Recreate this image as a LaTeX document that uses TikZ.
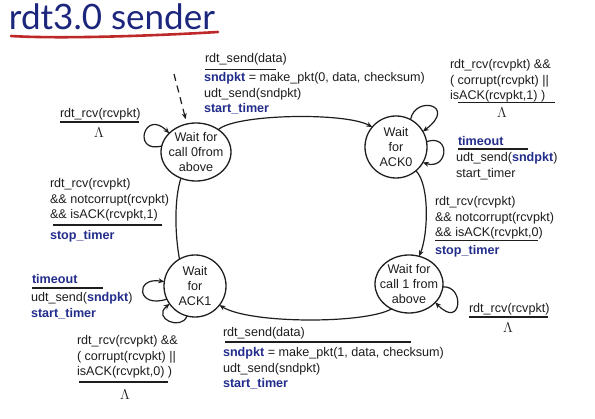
\documentclass[tikz,border=0pt]{standalone}
\usepackage{fontspec}
\setmainfont{Liberation Sans}
\newfontfamily\titlefont{Lato}
\usetikzlibrary{arrows.meta,shapes.geometric}
\definecolor{navy}{RGB}{28,38,125}
\definecolor{kwc}{RGB}{35,45,140}
\definecolor{ink}{RGB}{30,30,30}
\definecolor{swoosh}{RGB}{190,40,40}
\newcommand{\kw}[1]{\textbf{\textcolor{kwc}{#1}}}
\begin{document}
\begin{tikzpicture}[x=1pt,y=-1pt,
  every node/.style={inner sep=0pt, outer sep=0pt, text=ink},
  lbl/.style={anchor=north west, align=left, font=\fontsize{12.6}{15.3}\selectfont},
  state/.style={draw=ink, line width=1.3pt, ellipse, inner sep=0pt},
  statetext/.style={align=center, font=\fontsize{12.6}{15.3}\selectfont},
  arr/.style={draw=ink, line width=1.2pt, -{Stealth[length=6pt,width=5pt]}},
  conn/.style={draw=ink, line width=1.2pt},
  rulel/.style={draw=ink, line width=1.6pt},
  lam/.style={font=\fontsize{15}{15}\selectfont}]
\fill[white] (0,0) rectangle (595,419);
\useasboundingbox (0,0) rectangle (595,419);

% title
\node[anchor=base west, font=\titlefont\fontsize{35}{38}\selectfont, text=navy] (title) at (9,30) {rdt3.0 sender};
\draw[swoosh, line width=2.6pt, line cap=round] (11,36) .. controls (60,39) and (150,36) .. (218,32);

% states
\node[state, minimum width=70pt, minimum height=58pt] (s0) at (196,152) {};
\node[statetext] (t0) at (s0) {Wait for\\call 0from\\above};
\node[state, minimum width=62pt, minimum height=62pt] (s1) at (396,147) {};
\node[statetext] (t1) at (s1) {Wait\\for\\ACK0};
\node[state, minimum width=68pt, minimum height=58pt] (s2) at (409,284) {};
\node[statetext] (t2) at (s2) {Wait for\\call 1 from\\above};
\node[state, minimum width=62pt, minimum height=62pt] (s3) at (195,286) {};
\node[statetext] (t3) at (s3) {Wait\\for\\ACK1};

% transitions
\coordinate (init) at (174,74);
\draw[arr, dash pattern=on 7pt off 5pt, shorten >=5pt] (init) -- (s0.108);
\draw[arr] (s0.45) .. controls (235,114) and (345,112) .. (s1.140);
\draw[arr] (s0.170) .. controls +(-30,8) and +(-25,-25) .. (s0.145);
\draw[arr] (s1.62) .. controls (415,95) and (458,105) .. (s1.30);
\draw[arr] (s1.10) .. controls +(25,-8) and +(25,8) .. (s1.-30);
\draw[arr] (s1.-50) .. controls (430,185) and (428,235) .. (s2.70);
\draw[arr] (s2.-5) .. controls (465,285) and (462,330) .. (s2.-35);
\draw[arr] (s2.235) .. controls (365,324) and (250,324) .. (s3.-38);
\draw[arr] (s3.205) .. controls +(-30,10) and +(-30,-5) .. (s3.172);
\draw[arr] (s3.255) .. controls +(-5,15) and +(-18,15) .. (s3.215);
\draw[conn] (s3.120) .. controls (175,235) and (174,200) .. (s0.240);

% labels: top (s0 -> s1)
\node[lbl] (l1g) at (205,53.8) {rdt\_send(data)};
\draw[rulel] (205,69.5) -- (276,69.5);
\node[lbl] (l1a) at (204,72.8) {\kw{sndpkt} = make\_pkt(0, data, checksum)\\udt\_send(sndpkt)\\\kw{start\_timer}};

% s0 self loop
\node[lbl] (l2g) at (60,108.8) {rdt\_rcv(rcvpkt)};
\draw[rulel] (60,122) -- (139,122);
\node[lam] (l2l) at (99,133) {$\Lambda$};

% s1 top self loop
\node[lbl] (l3g) at (450,59.8) {rdt\_rcv(rcvpkt) \&\&\\( corrupt(rcvpkt) ||\\isACK(rcvpkt,1) )};
\draw[rulel] (458,102.5) -- (555,102.5);
\node[lam] (l3l) at (502,113) {$\Lambda$};

% s1 timeout
\node[lbl] (l4g) at (458,136.8) {\kw{timeout}};
\draw[rulel] (458,149) -- (528,149);
\node[lbl] (l4a) at (456,152.8) {udt\_send(\kw{sndpkt})\\start\_timer};

% s3 -> s0
\node[lbl] (l5g) at (50,178.8) {rdt\_rcv(rcvpkt)\\\&\& notcorrupt(rcvpkt)\\\&\& isACK(rcvpkt,1)};
\draw[rulel] (53,225) -- (162,225);
\node[lbl] (l5a) at (50,230.8) {\kw{stop\_timer}};

% s1 -> s2
\node[lbl] (l6g) at (435,196.8) {rdt\_rcv(rcvpkt)\\\&\& notcorrupt(rcvpkt)\\\&\& isACK(rcvpkt,0)};
\draw[rulel] (435,240.5) -- (538,240.5);
\node[lbl] (l6a) at (435,245.8) {\kw{stop\_timer}};

% s3 timeout
\node[lbl] (l7g) at (32,274.8) {\kw{timeout}};
\draw[rulel] (32,288) -- (103,288);
\node[lbl] (l7a) at (31,292.8) {udt\_send(\kw{sndpkt})\\\kw{start\_timer}};

% s3 bottom self loop
\node[lbl] (l8g) at (77,335.8) {rdt\_rcv(rcvpkt) \&\&\\( corrupt(rcvpkt) ||\\isACK(rcvpkt,0) )};
\draw[rulel] (79,382) -- (168,382);
\node[lam] (l8l) at (125,395) {$\Lambda$};

% s2 -> s3
\node[lbl] (l9g) at (223,327.8) {rdt\_send(data)};
\draw[rulel] (225,342) -- (411,342);
\node[lbl] (l9a) at (223,347.8) {\kw{sndpkt} = make\_pkt(1, data, checksum)\\udt\_send(sndpkt)\\\kw{start\_timer}};

% s2 self loop
\node[lbl] (l10g) at (469,303.8) {rdt\_rcv(rcvpkt)};
\draw[rulel] (469,317) -- (548,317);
\node[lam] (l10l) at (508,328) {$\Lambda$};
\end{tikzpicture}
\end{document}
